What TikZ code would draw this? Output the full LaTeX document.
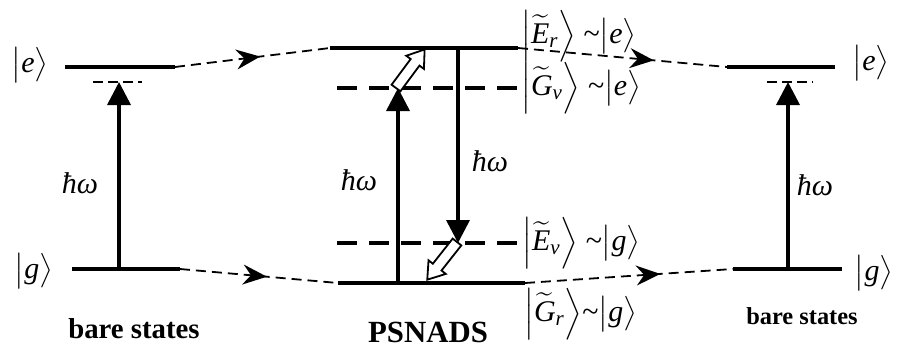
\documentclass[tikz,border=0pt]{standalone}
\usepackage{amsmath}
\usepackage{fontspec}
\setmainfont{Liberation Serif}
\usetikzlibrary{arrows.meta,decorations.markings}

\newcommand{\tx}[1]{\text{\itshape #1}}
\newcommand{\ketx}[1]{\ensuremath{\bigl|#1\bigr\rangle}}
\newcommand{\ketw}[1]{\ensuremath{\Bigl|#1\Bigr\rangle}}

\tikzset{
  level/.style={line width=1.8pt},
  vlevel/.style={line width=1.8pt,dash pattern=on 10pt off 6pt},
  virt/.style={line width=1.1pt,dash pattern=on 5pt off 2.5pt},
  photon/.style={line width=1.8pt,-{Triangle[length=11.5pt,width=11.5pt]}},
  link/.style={line width=0.9pt,dash pattern=on 5pt off 3pt,postaction={decorate},
    decoration={markings,mark=at position #1 with {\arrow{Stealth[length=12pt,width=10pt,inset=4pt]}}}},
  link/.default=0.55,
  hollow/.style={draw,line width=0.9pt,fill=white,line join=miter},
  lbl/.style={font=\fontsize{15}{18}\selectfont,inner sep=0pt},
  title/.style={font=\bfseries\fontsize{#1}{18}\selectfont,inner sep=0pt}
}

\begin{document}
\begin{tikzpicture}[x=0.5pt,y=0.5pt]

\useasboundingbox (0,0) rectangle (899,350);

% bare states, left
\coordinate (eL1) at (65,283);
\coordinate (eL2) at (175,283);
\coordinate (gL1) at (72,81);
\coordinate (gL2) at (180,81);
\coordinate (vL1) at (93,268);
\coordinate (vL2) at (142,268);
\coordinate (aL0) at (119,81);
\coordinate (aL1) at (119,268);

\draw[level] (eL1)--(eL2);
\draw[level] (gL1)--(gL2);
\draw[virt] (vL1)--(vL2);
\draw[photon] (aL0)--(aL1);

% PSNADS, middle
\coordinate (Er1) at (330,302);
\coordinate (Er2) at (518,302);
\coordinate (Gv1) at (337,262);
\coordinate (Gv2) at (520,262);
\coordinate (Ev1) at (337,107);
\coordinate (Ev2) at (520,107);
\coordinate (Gr1) at (338,67);
\coordinate (Gr2) at (525,67);

\coordinate (aM0) at (398,67);
\coordinate (aM1) at (398,262);
\coordinate (bM0) at (458,302);
\coordinate (bM1) at (458,107);

\draw[level] (Er1)--(Er2);
\draw[level] (Gr1)--(Gr2);
\draw[vlevel] (Gv1)--(Gv2);
\draw[vlevel] (Ev1)--(Ev2);
\draw[photon] (aM0)--(aM1);
\draw[photon] (bM0)--(bM1);

\draw[hollow,shift={(396,262)},rotate=53.4]
  (0,-5.5)--(32,-5.5)--(32,-11)--(48,0)--(32,11)--(32,5.5)--(0,5.5)--cycle;
\draw[hollow,shift={(457,108)},rotate=231.7]
  (0,-5.5)--(32,-5.5)--(32,-11)--(48,0)--(32,11)--(32,5.5)--(0,5.5)--cycle;

% bare states, right
\coordinate (eR1) at (727,283);
\coordinate (eR2) at (835,283);
\coordinate (gR1) at (733,81);
\coordinate (gR2) at (842,81);
\coordinate (vR1) at (767,268);
\coordinate (vR2) at (813,268);
\coordinate (aR0) at (788,81);
\coordinate (aR1) at (788,268);

\draw[level] (eR1)--(eR2);
\draw[level] (gR1)--(gR2);
\draw[virt] (vR1)--(vR2);
\draw[photon] (aR0)--(aR1);

% dashed links
\draw[link] (eL2)--(Er1);
\draw[link] (gL2)--(Gr1);
\draw[link=0.65] (Er2)--(eR1);
\draw[link=0.65] (Gr2)--(gR1);

% labels
\node[lbl] (keL) at (30,285) {\ketx{\tx{e}}};
\node[lbl] (kgL) at (34,79) {\ketx{\tx{g}}};
\node[lbl] (keR) at (871,287) {\ketx{\tx{e}}};
\node[lbl] (kgR) at (874,77) {\ketx{\tx{g}}};

\node[lbl] (hwL) at (80,167) {\itshape ħω};
\node[lbl] (hwM) at (359,170) {\itshape ħω};
\node[lbl] (hwN) at (490,189) {\itshape ħω};
\node[lbl] (hwR) at (815,165) {\itshape ħω};

\node[lbl,anchor=west] (kEr) at (521,314)
  {\ketw{\widetilde{\tx{E}}_{\tx{r}}}\ \textasciitilde\ketx{\tx{e}}};
\node[lbl,anchor=west] (kGv) at (521,262)
  {\ketw{\widetilde{\tx{G}}_{\tx{v}}}\ \textasciitilde\ketx{\tx{e}}};
\node[lbl,anchor=west] (kEv) at (522,107)
  {\ketw{\widetilde{\tx{E}}_{\tx{v}}}\ \textasciitilde\ketx{\tx{g}}};
\node[lbl,anchor=west] (kGr) at (524,36)
  {\ketw{\widetilde{\tx{G}}_{\tx{r}}}\textasciitilde\ketx{\tx{g}}};

\node[title=14.4] (bareL) at (134,21) {bare states};
\node[title=15.4] (psnads) at (428,18) {PSNADS};
\node[title=12.2] (bareR) at (802,34) {bare states};

\end{tikzpicture}
\end{document}
